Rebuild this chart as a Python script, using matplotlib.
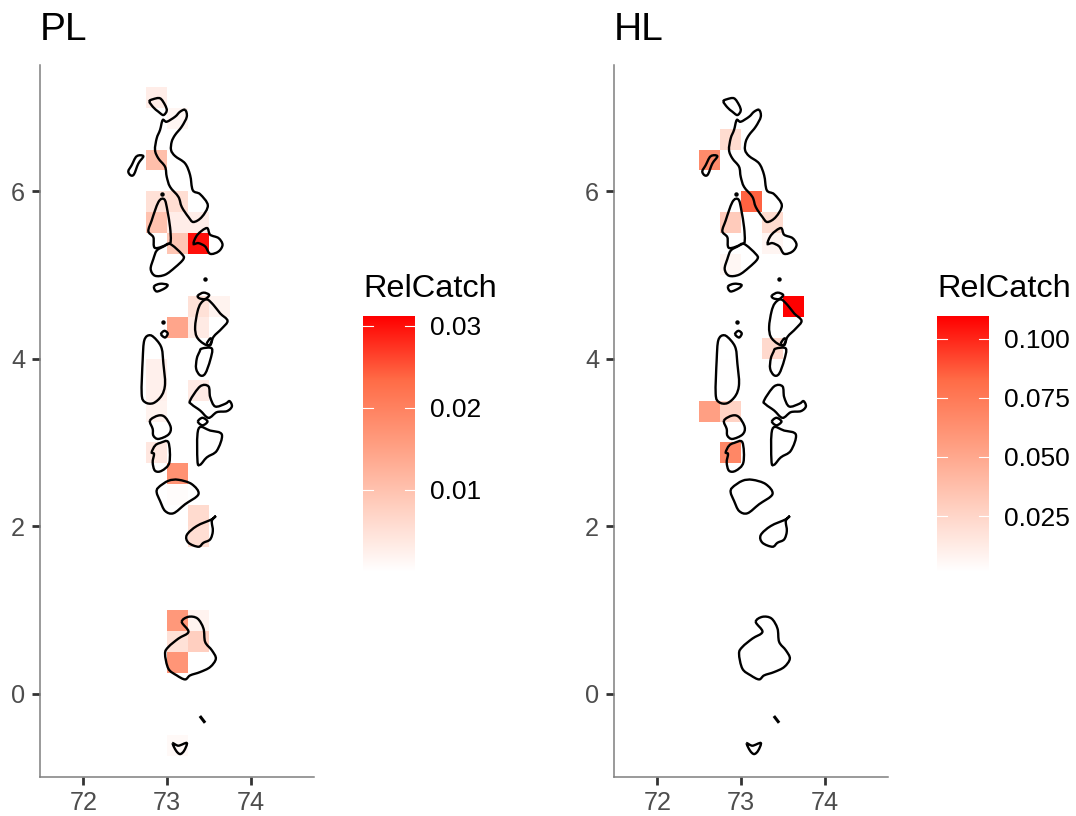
import matplotlib
matplotlib.use('Agg')
import matplotlib.pyplot as plt
from matplotlib.colors import LinearSegmentedColormap, Normalize
from matplotlib.path import Path
from matplotlib.patches import PathPatch
import numpy as np

plt.rcParams['font.family'] = ['Liberation Sans', 'DejaVu Sans']

# grid cells, centre lon / lat / relative catch
pl_lon = [72.875, 73.125, 72.875, 72.875, 73.125, 72.875, 73.125, 73.375, 73.125, 73.375,
          73.375, 73.625, 73.375, 73.125, 72.875, 72.875, 72.875, 73.375, 72.875, 73.125,
          73.125, 73.375, 73.375, 73.125, 73.375, 73.125, 73.375, 73.125, 73.125]
pl_lat = [7.125, 6.875, 6.375, 5.875, 5.875, 5.625, 5.625, 5.625, 5.375, 5.375,
          4.625, 4.625, 4.375, 4.375, 3.875, 3.625, 3.375, 3.625, 2.875, 2.625,
          2.375, 2.125, 1.875, 0.875, 0.875, 0.625, 0.625, 0.375, -0.625]
pl_val = [0.003, 0.0015, 0.0105, 0.005, 0.0055, 0.01, 0.003, 0.003, 0.0095, 0.03,
          0.005, 0.002, 0.0035, 0.0145, 0.0025, 0.0025, 0.002, 0.0035, 0.004, 0.0175,
          0.0005, 0.006, 0.0055, 0.0165, 0.002, 0.005, 0.008, 0.017, 0.001]

hl_lon = [72.875, 72.625, 73.125, 72.875, 73.375, 73.375, 72.875, 73.625,
          73.375, 72.875, 72.625, 72.875, 72.875]
hl_lat = [6.625, 6.375, 5.875, 5.625, 5.625, 5.375, 5.125, 4.625,
          4.125, 3.875, 3.375, 3.375, 2.875]
hl_val = [0.022, 0.066, 0.085, 0.031, 0.022, 0.007, 0.006, 0.1095,
          0.023, 0.002, 0.055, 0.027, 0.068]

pl_range = (0.0, 0.0312)
hl_range = (0.0013, 0.1097)
pl_breaks = [0.01, 0.02, 0.03]
hl_breaks = [0.025, 0.05, 0.075, 0.1]
pl_labels = ['0.01', '0.02', '0.03']
hl_labels = ['0.025', '0.050', '0.075', '0.100']

# atoll outlines (lon, lat)
islands = [
    [(72.789, 7.074), (72.829, 7.100), (72.917, 7.112), (72.977, 7.032), (72.997, 6.964),
     (72.957, 6.912), (72.897, 6.952), (72.837, 7.004)],
    [(73.217, 6.974), (73.237, 6.892), (73.177, 6.774), (73.097, 6.674), (73.057, 6.594),
     (73.049, 6.494), (73.097, 6.422), (73.217, 6.334), (73.277, 6.194), (73.309, 6.014),
     (73.397, 5.966), (73.489, 5.834), (73.417, 5.694), (73.317, 5.634), (73.257, 5.694),
     (73.177, 5.814), (73.137, 5.934), (73.037, 6.054), (72.997, 6.174), (72.977, 6.294),
     (72.897, 6.394), (72.857, 6.494), (72.877, 6.634), (72.917, 6.734), (72.949, 6.852),
     (72.997, 6.832), (73.097, 6.892), (73.157, 6.952)],
    [(72.637, 6.420), (72.717, 6.420), (72.657, 6.332), (72.605, 6.204), (72.565, 6.192),
     (72.537, 6.240), (72.577, 6.312)],
    [(72.937, 5.912), (72.977, 5.892), (73.005, 5.772), (73.037, 5.572), (73.045, 5.412),
     (73.017, 5.372), (72.857, 5.324), (72.837, 5.452), (72.777, 5.524), (72.817, 5.652),
     (72.857, 5.772), (72.897, 5.872)],
    [(73.037, 5.372), (73.177, 5.252), (73.197, 5.192), (73.097, 5.092), (72.977, 5.004),
     (72.857, 4.992), (72.805, 5.072), (72.837, 5.192), (72.877, 5.292), (72.957, 5.340)],
    [(73.317, 5.374), (73.365, 5.482), (73.477, 5.562), (73.517, 5.482), (73.617, 5.442),
     (73.665, 5.362), (73.617, 5.282), (73.517, 5.254), (73.457, 5.342), (73.377, 5.382)],
    [(72.845, 4.864), (72.917, 4.896), (73.005, 4.884), (72.977, 4.844), (72.877, 4.804)],
    [(73.369, 4.754), (73.437, 4.790), (73.505, 4.762), (73.457, 4.714), (73.389, 4.722)],
    [(73.477, 4.710), (73.557, 4.642), (73.637, 4.542), (73.725, 4.454), (73.657, 4.362),
     (73.557, 4.262), (73.517, 4.162), (73.437, 4.182), (73.357, 4.262), (73.337, 4.382),
     (73.365, 4.562), (73.405, 4.662)],
    [(73.477, 4.182), (73.517, 4.242), (73.537, 4.222), (73.509, 4.162)],
    [(73.417, 4.122), (73.537, 4.122), (73.517, 3.982), (73.457, 3.822), (73.397, 3.802),
     (73.349, 3.882), (73.357, 4.002), (73.389, 4.082)],
    [(72.929, 4.294), (72.969, 4.334), (73.009, 4.302), (72.977, 4.254)],
    [(72.797, 4.282), (72.877, 4.222), (72.937, 4.122), (72.957, 3.942), (72.977, 3.702),
     (72.937, 3.562), (72.837, 3.470), (72.737, 3.482), (72.697, 3.582), (72.709, 3.982),
     (72.729, 4.222)],
    [(73.277, 3.502), (73.397, 3.670), (73.497, 3.670), (73.517, 3.542), (73.577, 3.430),
     (73.697, 3.462), (73.749, 3.494), (73.777, 3.430), (73.717, 3.374), (73.597, 3.362),
     (73.497, 3.294), (73.397, 3.382), (73.297, 3.454)],
    [(73.370, 3.250), (73.425, 3.295), (73.485, 3.250), (73.425, 3.205)],
    [(72.797, 3.262), (72.897, 3.322), (72.977, 3.302), (73.045, 3.182), (73.017, 3.094),
     (72.897, 3.042), (72.837, 3.082), (72.829, 3.162)],
    [(73.377, 3.162), (73.517, 3.142), (73.657, 3.094), (73.597, 2.902), (73.477, 2.822),
     (73.397, 2.734), (73.365, 2.782)],
    [(72.857, 2.962), (72.917, 2.994), (73.017, 3.002), (73.029, 2.762), (72.937, 2.662),
     (72.857, 2.662), (72.829, 2.762), (72.845, 2.862), (72.817, 2.882)],
    [(72.897, 2.462), (73.017, 2.542), (73.137, 2.554), (73.297, 2.502), (73.377, 2.382),
     (73.217, 2.262), (73.077, 2.154), (72.977, 2.182), (72.917, 2.302), (72.877, 2.402)],
    [(73.585, 2.122), (73.537, 2.082), (73.357, 2.002), (73.237, 1.894), (73.257, 1.802),
     (73.377, 1.754), (73.437, 1.802), (73.517, 1.842), (73.549, 1.942), (73.537, 2.062)],
    [(73.177, 0.857), (73.257, 0.917), (73.365, 0.897), (73.437, 0.777), (73.457, 0.617),
     (73.537, 0.517), (73.585, 0.417), (73.517, 0.317), (73.397, 0.257), (73.277, 0.217),
     (73.217, 0.169), (73.117, 0.217), (73.017, 0.297), (72.977, 0.477), (73.017, 0.557),
     (73.137, 0.657), (73.257, 0.737)],
    [(73.069, -0.595), (73.137, -0.623), (73.237, -0.591), (73.205, -0.683), (73.157, -0.723),
     (73.109, -0.683)],
]
dots_lon = [72.937, 73.453, 72.949]
dots_lat = [5.964, 4.952, 4.434]
dash_lon = [73.405, 73.445]
dash_lat = [-0.283, -0.335]

W, H = 1076, 816
fig = plt.figure(figsize=(W / 100, H / 100), dpi=100)
ramp = LinearSegmentedColormap.from_list(
    'relcatch', ['#FFFFFF', '#FFD0C1', '#FF9E81', '#FF6C47', '#FF0000'])


def px_axes(left, top, right, bottom):
    return fig.add_axes([left / W, 1 - bottom / H, (right - left) / W, (bottom - top) / H])


def smooth_path(pts):
    # closed bezier curve through the read points
    pts = np.array(pts)
    prev_pts = np.roll(pts, 1, axis=0)
    next_pts = np.roll(pts, -1, axis=0)
    next2 = np.roll(pts, -2, axis=0)
    verts = [pts[0]]
    codes = [Path.MOVETO]
    for p0, p1, p2, p3 in zip(prev_pts, pts, next_pts, next2):
        verts += [p1 + (p2 - p0) / 6, p2 - (p3 - p1) / 6, p2]
        codes += [Path.CURVE4, Path.CURVE4, Path.CURVE4]
    return Path(verts, codes)


def map_panel(left, title, lon, lat, val, vrange):
    ax = px_axes(left, 65, left + 274, 777)
    norm = Normalize(*vrange)
    ax.bar(lon, 0.25, width=0.25, bottom=np.array(lat) - 0.125, color=ramp(norm(val)), linewidth=0)
    for pts in islands:
        ax.add_patch(PathPatch(smooth_path(pts), fill=False, edgecolor='black', linewidth=1.7))
    ax.plot(dots_lon, dots_lat, 'o', color='black', markersize=3.2, markeredgewidth=0)
    ax.plot(dash_lon, dash_lat, color='black', linewidth=2.2)
    ax.set_xlim(71.48, 74.76)
    ax.set_ylim(-0.997, 7.51)
    ax.set_xticks([72, 73, 74])
    ax.set_yticks([0, 2, 4, 6])
    ax.tick_params(labelsize=18.2, labelcolor='#4D4D4D', color='#333333', length=5.8, width=2)
    ax.tick_params(axis='x', pad=4)
    ax.tick_params(axis='y', pad=5)
    for s in ['top', 'right']:
        ax.spines[s].set_visible(False)
    for s in ['left', 'bottom']:
        ax.spines[s].set_color('#7F7F7F')
        ax.spines[s].set_linewidth(1.1)
    fig.text(left / W, 1 - 40 / H, title, fontsize=28, color='black', ha='left', va='baseline')
    return ax


def color_legend(left, vrange, breaks, labels):
    ax = px_axes(left, 316, left + 52, 572)
    grad = np.linspace(1, 0, 256).reshape(-1, 1)
    ax.imshow(grad, cmap=ramp, aspect='auto', extent=[0, 1, vrange[0], vrange[1]], vmin=0, vmax=1)
    for b in breaks:
        ax.plot([0, 0.2], [b, b], color='white', linewidth=0.8)
        ax.plot([0.8, 1], [b, b], color='white', linewidth=0.8)
    ax.set_xlim(0, 1)
    ax.set_ylim(*vrange)
    ax.set_xticks([])
    ax.yaxis.tick_right()
    ax.set_yticks(breaks)
    ax.set_yticklabels(labels)
    ax.tick_params(axis='y', length=0, labelsize=19, labelcolor='black', pad=11)
    for s in ax.spines.values():
        s.set_visible(False)
    fig.text(left / W, 1 - 297 / H, 'RelCatch', fontsize=23.4, color='black', ha='left', va='baseline')


map_panel(40, 'PL', pl_lon, pl_lat, pl_val, pl_range)
map_panel(614, 'HL', hl_lon, hl_lat, hl_val, hl_range)
color_legend(363, pl_range, pl_breaks, pl_labels)
color_legend(937, hl_range, hl_breaks, hl_labels)

fig.savefig('out.png', dpi=100)
